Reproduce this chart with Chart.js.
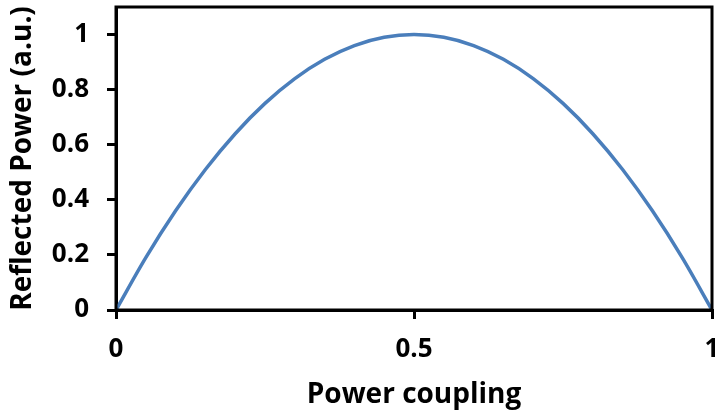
<!DOCTYPE html>
<html>
<head>
<meta charset="utf-8">
<script src="https://cdn.jsdelivr.net/npm/chart.js@4.4.1/dist/chart.umd.min.js"></script>
<style>
  html, body { margin: 0; padding: 0; background: #fff; }
  #wrap { width: 715px; height: 412px; }
</style>
</head>
<body>
<div id="wrap"><canvas id="chart" width="715" height="412"></canvas></div>
<script>
// power coupling (x) vs reflected power (y)
var coupling = [0, 0.05, 0.1, 0.15, 0.2, 0.25, 0.3, 0.35, 0.4, 0.45, 0.5,
                0.55, 0.6, 0.65, 0.7, 0.75, 0.8, 0.85, 0.9, 0.95, 1];
var reflected = [0, 0.19, 0.36, 0.51, 0.64, 0.75, 0.84, 0.91, 0.96, 0.99, 1,
                 0.99, 0.96, 0.91, 0.84, 0.75, 0.64, 0.51, 0.36, 0.19, 0];
var xTicks = [0, 0.5, 1];
var yTicks = [0, 0.2, 0.4, 0.6, 0.8, 1];

var points = coupling.map(function(c, i){ return {x: c, y: reflected[i]}; });

// box around the plot area
var frame = {
  id: 'frame',
  afterDraw: function(chart){
    var a = chart.chartArea, ctx = chart.ctx;
    ctx.save();
    ctx.strokeStyle = '#000';
    ctx.lineWidth = 3;
    ctx.strokeRect(a.left, a.top, a.right - a.left, a.bottom - a.top);
    ctx.restore();
  }
};

var font = "'Open Sans', sans-serif";
var plain = function(v){ return String(v); };

new Chart(document.getElementById('chart'), {
  type: 'line',
  data: {
    datasets: [{
      data: points,
      borderColor: '#4A7EBB',
      borderWidth: 3.5,
      pointRadius: 0,
      fill: false,
      cubicInterpolationMode: 'monotone'
    }]
  },
  options: {
    responsive: false,
    animation: false,
    layout: { padding: { top: 7, right: 3, left: 0, bottom: 0 } },
    plugins: { legend: { display: false }, tooltip: { enabled: false } },
    scales: {
      x: {
        type: 'linear', min: 0, max: 1,
        afterBuildTicks: function(s){ s.ticks = xTicks.map(function(v){ return {value: v}; }); },
        afterFit: function(s){ s.height = 102; s.paddingLeft = 0; s.paddingRight = 0; },
        grid: { drawOnChartArea: false, drawTicks: true, tickLength: 9, color: '#000', lineWidth: 3 },
        border: { display: true, color: '#000', width: 3 },
        ticks: { color: '#000', padding: 15, maxRotation: 0, callback: plain,
                 font: { family: font, size: 26, weight: 'bold' } },
        title: { display: true, text: 'Power coupling', color: '#000', padding: { top: 4, bottom: 0 },
                 font: { family: font, size: 28, weight: 'bold' } }
      },
      y: {
        type: 'linear', min: 0, max: 1.1,
        afterBuildTicks: function(s){ s.ticks = yTicks.map(function(v){ return {value: v}; }); },
        afterFit: function(s){ s.width = 116; s.paddingTop = 0; s.paddingBottom = 0; },
        grid: { drawOnChartArea: false, drawTicks: true, tickLength: 9, color: '#000', lineWidth: 3 },
        border: { display: true, color: '#000', width: 3 },
        ticks: { color: '#000', padding: 18, callback: plain,
                 font: { family: font, size: 26, weight: 'bold' } },
        title: { display: true, text: 'Reflected Power (a.u.)', color: '#000', padding: { top: 6, bottom: 0 },
                 font: { family: font, size: 28, weight: 'bold' } }
      }
    }
  },
  plugins: [frame]
});
</script>
</body>
</html>
